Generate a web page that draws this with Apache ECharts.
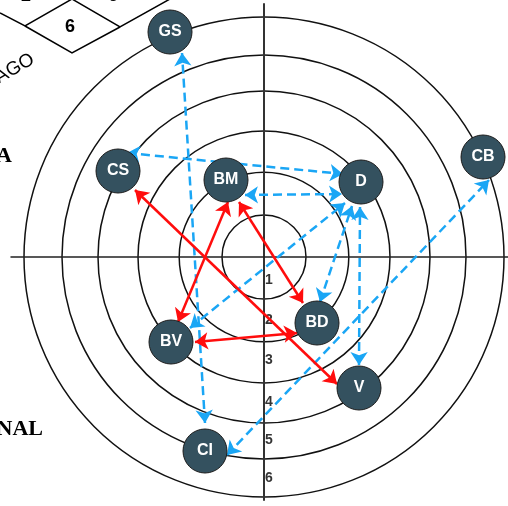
<!DOCTYPE html>
<html>
<head>
<meta charset="utf-8">
<script src="https://cdn.jsdelivr.net/npm/echarts@6/dist/echarts.min.js"></script>
<style>
html, body { margin: 0; padding: 0; background: #fff; }
#main { width: 508px; height: 506px; }
</style>
</head>
<body>
<div id="main"></div>
<script>
// rings (radius in chart units, 1 unit ~ one ring)
var ringEdges = [1.05, 2.12, 3.15, 4.15, 5.05, 6];
var ringLabels = ['1', '2', '3', '4', '5', '6'];
var ringLabelR = [0.575, 1.575, 2.575, 3.625, 4.575, 5.525];

// nodes
var nodeNames = ['GS', 'CS', 'BM', 'D', 'CB', 'BD', 'BV', 'V', 'CI'];
var nodeX = [-2.35, -3.65, -0.95, 2.425, 5.475, 1.325, -2.325, 2.375, -1.475];
var nodeY = [5.625, 2.15, 1.925, 1.875, 2.5, -1.65, -2.125, -3.275, -4.85];

// links: [from point, to point]
var redLinks = [
    [[-3.225, 1.675], [1.825, -3.175]],   // CS - V
    [[-0.625, 1.375], [0.975, -1.15]],    // BM - BD
    [[-2.15, -1.625], [-0.9, 1.375]],     // BV - BM
    [[0.825, -1.9], [-1.725, -2.125]]     // BD - BV
];
var blueLinks = [
    [[-3.425, 2.6], [1.975, 2.075]],      // CS - D
    [[-0.475, 1.55], [1.95, 1.575]],      // BM - D
    [[-1.85, -1.775], [2.025, 1.35]],     // BV - D
    [[1.4, -1.125], [2.2, 1.275]],        // BD - D
    [[2.375, -2.7], [2.4, 1.25]],         // V - D
    [[-0.925, -4.95], [5.625, 1.925]],    // CI - CB
    [[-1.475, -4.15], [-2.05, 5.1]]       // CI - GS
];

var chart = echarts.init(document.getElementById('main'));

var option = {
    animation: false,
    polar: {
        center: [264, 257],
        radius: 240
    },
    angleAxis: {
        show: false,
        min: 0,
        max: 360
    },
    radiusAxis: {
        min: 0,
        max: 6,
        axisLine: { show: false },
        axisLabel: { show: false },
        axisTick: { show: false, customValues: ringEdges },
        splitLine: {
            show: true,
            lineStyle: { color: '#111', width: 1.5 }
        }
    },
    grid: {
        left: 11,
        top: 4,
        width: 497,
        height: 496
    },
    xAxis: {
        type: 'value',
        min: -6.325,
        max: 6.1,
        axisLine: { onZero: true, lineStyle: { color: '#222', width: 1.5 } },
        axisTick: { show: false },
        axisLabel: { show: false },
        splitLine: { show: false }
    },
    yAxis: {
        type: 'value',
        min: -6.075,
        max: 6.325,
        axisLine: { onZero: true, lineStyle: { color: '#333', width: 2 } },
        axisTick: { show: false },
        axisLabel: { show: false },
        splitLine: { show: false }
    },
    graphic: [
        {
            type: 'polyline',
            shape: { points: [[0, 13], [25, 26], [72, -1], [120, 27], [170, -1]] },
            style: { stroke: '#000', lineWidth: 1.5, fill: null }
        },
        {
            type: 'polyline',
            shape: { points: [[25, 26], [72, 53], [120, 27]] },
            style: { stroke: '#000', lineWidth: 1.5, fill: null }
        },
        {
            type: 'text', x: 26, y: -4,
            style: { text: '2', font: 'bold 18px "Liberation Sans"', fill: '#000', align: 'center', verticalAlign: 'middle' }
        },
        {
            type: 'text', x: 113, y: -4,
            style: { text: '6', font: 'bold 18px "Liberation Sans"', fill: '#000', align: 'center', verticalAlign: 'middle' }
        },
        {
            type: 'text', x: 70, y: 27,
            style: { text: '6', font: 'bold 18px "Liberation Sans"', fill: '#000', align: 'center', verticalAlign: 'middle' }
        },
        {
            type: 'text', x: 33, y: 58, rotation: Math.PI / 6,
            style: { text: 'AGO', font: '19px "Liberation Sans"', fill: '#000', align: 'right', verticalAlign: 'middle' }
        },
        {
            type: 'text', x: 12, y: 156,
            style: { text: 'A', font: 'bold 22px "Liberation Serif"', fill: '#000', align: 'right', verticalAlign: 'middle' }
        },
        {
            type: 'text', x: 43, y: 429,
            style: { text: 'NAL', font: 'bold 22px "Liberation Serif"', fill: '#000', align: 'right', verticalAlign: 'middle' }
        }
    ],
    series: [
        {
            type: 'scatter',
            symbolSize: 1,
            itemStyle: { color: 'rgba(0,0,0,0)' },
            data: ringLabelR.map(function (r, i) { return [0.125, -r, ringLabels[i]]; }),
            label: {
                show: true,
                position: 'inside',
                formatter: function (p) { return p.value[2]; },
                color: '#000',
                fontWeight: 'bold',
                fontSize: 14,
                fontFamily: 'Liberation Sans'
            },
            z: 2
        },
        {
            type: 'lines',
            coordinateSystem: 'cartesian2d',
            symbol: ['arrow', 'arrow'],
            symbolSize: 13,
            lineStyle: { color: '#1aa6f5', width: 2.5, type: [9, 5], opacity: 1 },
            data: blueLinks.map(function (l) { return { coords: l }; }),
            z: 3
        },
        {
            type: 'lines',
            coordinateSystem: 'cartesian2d',
            symbol: ['arrow', 'arrow'],
            symbolSize: 13,
            lineStyle: { color: '#ff0d0d', width: 2.5, opacity: 1 },
            data: redLinks.map(function (l) { return { coords: l }; }),
            z: 4
        },
        {
            type: 'scatter',
            symbolSize: 44,
            itemStyle: { color: '#34515f', borderColor: '#1b1b1b', borderWidth: 1, opacity: 1 },
            data: nodeX.map(function (x, i) { return [x, nodeY[i], nodeNames[i]]; }),
            label: {
                show: true,
                position: 'inside',
                formatter: function (p) { return p.value[2]; },
                color: '#fff',
                fontWeight: 'bold',
                fontSize: 16,
                fontFamily: 'Liberation Sans'
            },
            z: 5
        }
    ]
};
chart.setOption(option);
</script>
</body>
</html>
